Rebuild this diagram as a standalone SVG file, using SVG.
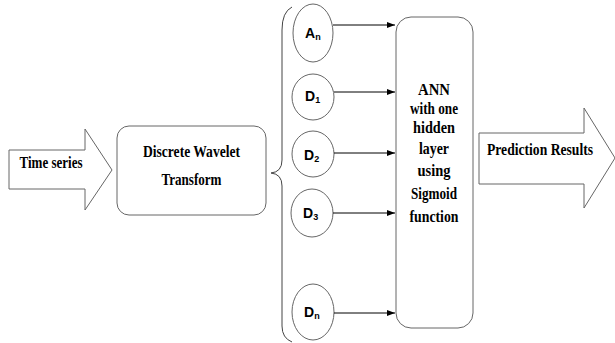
<svg xmlns="http://www.w3.org/2000/svg" width="615" height="343" viewBox="0 0 615 343">
<defs>
<marker id="ah" viewBox="0 0 8 6" refX="8" refY="3" markerWidth="8" markerHeight="6" markerUnits="userSpaceOnUse" orient="auto">
<path d="M0,0 L8,3 L0,6 Z" fill="#000"/>
</marker>
<style>
.shape{fill:#fff;stroke:#666;stroke-width:1}
.lbl{font-family:"Liberation Serif","Times New Roman",serif;font-weight:bold;font-size:16px;fill:#000}
.sub{font-family:"Liberation Sans",Arial,sans-serif;font-weight:bold;font-size:14px;fill:#000}
.conn{stroke:#000;stroke-width:1;fill:none}
</style>
</defs>
<rect width="615" height="343" fill="#fff"/>

<g id="time-series">
<path class="shape" d="M9,150 H85 V129 L112,170 L85,210 V189 H9 Z"/>
<text class="lbl" x="51" y="168" text-anchor="middle" textLength="63" lengthAdjust="spacingAndGlyphs">Time series</text>
</g>

<g id="dwt">
<rect class="shape" x="117" y="126" width="149" height="89" rx="12"/>
<text class="lbl" x="191.5" y="157" text-anchor="middle" textLength="97" lengthAdjust="spacingAndGlyphs">Discrete Wavelet</text>
<text class="lbl" x="191.5" y="185" text-anchor="middle" textLength="60" lengthAdjust="spacingAndGlyphs">Transform</text>
</g>

<g id="brace">
<path d="M292,7 Q282,12 282,30 V160 Q282,172 271,173 Q282,174 282,186 V326 Q282,338 292,342" fill="none" stroke="#444" stroke-width="1"/>
</g>

<g id="An">
<ellipse class="shape" cx="313" cy="33" rx="20" ry="29"/>
<text class="sub" x="305" y="38">A<tspan font-size="9" dy="2">n</tspan></text>
</g>
<g id="D1">
<ellipse class="shape" cx="313" cy="97" rx="21" ry="23"/>
<text class="sub" x="305" y="101">D<tspan font-size="9" dy="2">1</tspan></text>
</g>
<g id="D2">
<ellipse class="shape" cx="313" cy="154" rx="21" ry="23"/>
<text class="sub" x="304" y="160">D<tspan font-size="9" dy="2">2</tspan></text>
</g>
<g id="D3">
<ellipse class="shape" cx="312" cy="213" rx="21" ry="24"/>
<text class="sub" x="303" y="218">D<tspan font-size="9" dy="2">3</tspan></text>
</g>
<g id="Dn">
<ellipse class="shape" cx="313" cy="312" rx="21" ry="28"/>
<text class="sub" x="304" y="317">D<tspan font-size="9" dy="2">n</tspan></text>
</g>

<g id="ann">
<rect class="shape" x="396" y="17" width="77" height="311" rx="15"/>
<text class="lbl" x="434" y="95" text-anchor="middle" textLength="32" lengthAdjust="spacingAndGlyphs">ANN</text>
<text class="lbl" x="434" y="114" text-anchor="middle" textLength="48" lengthAdjust="spacingAndGlyphs">with one</text>
<text class="lbl" x="434" y="133" text-anchor="middle" textLength="42" lengthAdjust="spacingAndGlyphs">hidden</text>
<text class="lbl" x="434" y="154" text-anchor="middle" textLength="30" lengthAdjust="spacingAndGlyphs">layer</text>
<text class="lbl" x="434" y="176" text-anchor="middle" textLength="33" lengthAdjust="spacingAndGlyphs">using</text>
<text class="lbl" x="434" y="199" text-anchor="middle" textLength="46" lengthAdjust="spacingAndGlyphs">Sigmoid</text>
<text class="lbl" x="434" y="222" text-anchor="middle" textLength="49" lengthAdjust="spacingAndGlyphs">function</text>
</g>

<g id="prediction">
<path class="shape" d="M479,133 H584 V108 L615,158 L584,208 V184 H479 Z"/>
<text class="lbl" x="540" y="155" text-anchor="middle" textLength="106" lengthAdjust="spacingAndGlyphs">Prediction Results</text>
</g>

<g id="connectors">
<line class="conn" x1="333" y1="25" x2="395" y2="25" marker-end="url(#ah)"/>
<line class="conn" x1="334" y1="92" x2="395" y2="92" marker-end="url(#ah)"/>
<line class="conn" x1="334" y1="153" x2="395" y2="153" marker-end="url(#ah)"/>
<line class="conn" x1="333" y1="213" x2="395" y2="213" marker-end="url(#ah)"/>
<line class="conn" x1="334" y1="313" x2="395" y2="313" marker-end="url(#ah)"/>
</g>
</svg>
